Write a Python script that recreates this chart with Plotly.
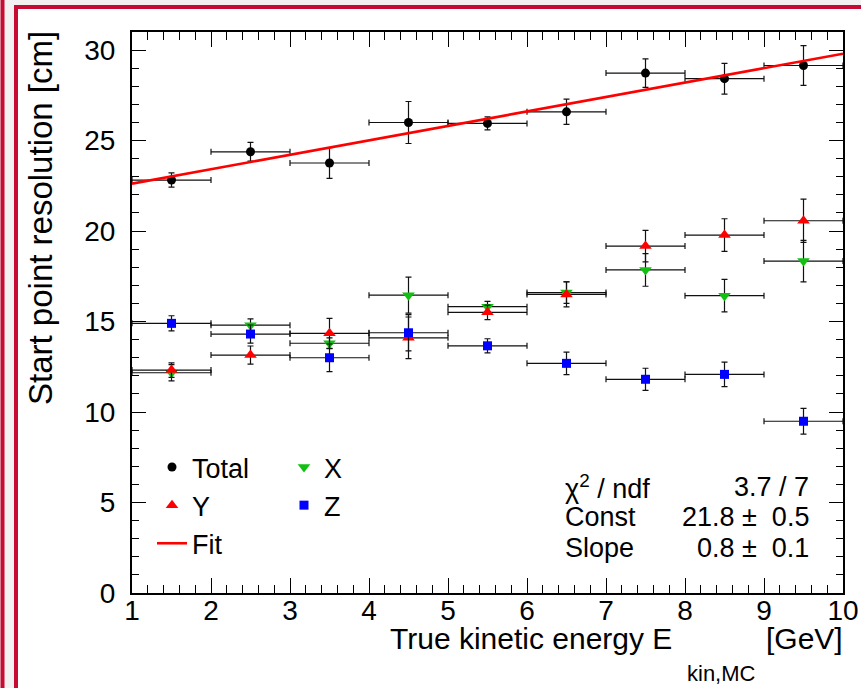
import plotly.graph_objects as go

# ---------------- data ----------------
energy = [1.5, 2.5, 3.5, 4.5, 5.5, 6.5, 7.5, 8.5, 9.5]
bin_half = [0.5, 0.5, 0.5, 0.5, 0.5, 0.5, 0.5, 0.5, 0.5]

total = [22.82, 24.38, 23.76, 26.0, 25.95, 26.59, 28.73, 28.42, 29.15]
total_err = [0.39, 0.52, 0.85, 1.16, 0.36, 0.70, 0.79, 0.85, 1.10]

res_y = [12.32, 13.15, 14.35, 14.10, 15.51, 16.50, 19.17, 19.78, 20.57]
res_y_err = [0.40, 0.50, 0.83, 1.15, 0.40, 0.69, 0.87, 0.90, 1.20]

res_x = [12.17, 14.80, 13.80, 16.46, 15.82, 16.60, 17.85, 16.43, 18.34]
res_x_err = [0.45, 0.35, 0.30, 1.00, 0.30, 0.60, 0.90, 0.90, 1.15]

res_z = [14.90, 14.31, 13.00, 14.38, 13.66, 12.69, 11.81, 12.08, 9.49]
res_z_err = [0.42, 0.50, 0.77, 1.00, 0.39, 0.62, 0.61, 0.68, 0.71]

fit_x = [1.0, 10.0]
fit_y = [22.62, 29.80]

stats_labels = ["χ<sup>2</sup> / ndf", "Const", "Slope"]
stats_values = ["3.7 / 7", "21.8 ±\u00a0 0.5", "0.8 ±\u00a0 0.1"]

# ---------------- layout helpers ----------------
W, H = 861, 688
L, R, T, B = 132, 843, 32, 593


def px(xp):
    return (xp - L) / (R - L)


def py(yp):
    return (B - yp) / (B - T)


FONT = "Liberation Sans, Arial, Helvetica, sans-serif"
ERR_COL = "#111111"

fig = go.Figure()


def add_series(name, yvals, yerr, color, symbol, size, legend):
    fig.add_trace(go.Scatter(
        x=energy, y=yvals, mode="markers", name=name,
        legend=legend, legendgroup=name,
        marker=dict(color=color, symbol=symbol, size=size, line=dict(width=0)),
        error_x=dict(type="data", array=bin_half, color=ERR_COL, thickness=1.2, width=3),
        error_y=dict(type="data", array=yerr, color=ERR_COL, thickness=1.2, width=3),
    ))


add_series("Total", total, total_err, "black", "circle", 9, "legend")
add_series("X", res_x, res_x_err, "#12c012", "triangle-down", 11, "legend2")
add_series("Y", res_y, res_y_err, "#ff0000", "triangle-up", 11, "legend")
add_series("Z", res_z, res_z_err, "#0000ff", "square", 9, "legend2")

fig.add_trace(go.Scatter(
    x=fit_x, y=fit_y, mode="lines", name="Fit", legend="legend", legendgroup="Fit",
    line=dict(color="#ff0000", width=2.6),
))

# ---------------- frame decoration ----------------
RED = "#c70a34"
shapes = [
    dict(type="rect", xref="paper", yref="paper", x0=px(18), x1=px(W + 5), y0=py(H + 5), y1=py(9),
         fillcolor="white", line=dict(width=0), layer="below"),
    dict(type="rect", xref="paper", yref="paper", x0=px(0.5), x1=px(4.5), y0=py(H + 5), y1=py(-5),
         fillcolor=RED, line=dict(width=0), layer="below"),
    dict(type="rect", xref="paper", yref="paper", x0=px(14), x1=px(18), y0=py(H + 5), y1=py(5),
         fillcolor=RED, line=dict(width=0), layer="below"),
    dict(type="rect", xref="paper", yref="paper", x0=px(14), x1=px(W + 5), y0=py(9), y1=py(5),
         fillcolor=RED, line=dict(width=0), layer="below"),
]

annotations = [
    dict(text="Start point resolution [cm]", textangle=-90, xref="paper", yref="paper",
         x=px(40), y=py(29), xanchor="center", yanchor="top", showarrow=False,
         font=dict(family=FONT, size=33, color="black")),
    dict(text="True kinetic energy E", xref="paper", yref="paper",
         x=px(674), y=py(638), xanchor="right", yanchor="middle", showarrow=False,
         font=dict(family=FONT, size=30, color="black")),
    dict(text="kin,MC", xref="paper", yref="paper",
         x=px(685), y=py(673), xanchor="left", yanchor="middle", showarrow=False,
         font=dict(family=FONT, size=22, color="black")),
    dict(text="[GeV]", xref="paper", yref="paper",
         x=px(845), y=py(638), xanchor="right", yanchor="middle", showarrow=False,
         font=dict(family=FONT, size=30, color="black")),
]
rows = [487, 517, 548]
for lab, val, r in zip(stats_labels, stats_values, rows):
    annotations.append(dict(text=lab, xref="paper", yref="paper", x=px(563), y=py(r),
                            xanchor="left", yanchor="middle", showarrow=False,
                            font=dict(family=FONT, size=27, color="black")))
    annotations.append(dict(text=val, xref="paper", yref="paper", x=px(811), y=py(r),
                            xanchor="right", yanchor="middle", showarrow=False,
                            font=dict(family=FONT, size=27, color="black")))

axis_common = dict(
    showline=True, linecolor="black", linewidth=2, mirror="allticks",
    ticks="inside", tickcolor="black", tickwidth=1.2,
    showgrid=False, zeroline=False, automargin=False,
    tickfont=dict(family=FONT, size=28, color="black"),
)

fig.update_layout(
    width=W, height=H,
    margin=dict(l=L, r=W - R, t=T, b=H - B, pad=0, autoexpand=False),
    paper_bgcolor="#f2f0f0", plot_bgcolor="white",
    showlegend=True,
    xaxis=dict(range=[1, 10], dtick=1, tick0=1, ticklen=15, ticklabelstandoff=-9,
               minor=dict(dtick=0.2, ticklen=8, ticks="inside", tickcolor="black", tickwidth=1.2),
               **axis_common),
    yaxis=dict(range=[0, 31], dtick=5, tick0=0, ticklen=14, ticklabelstandoff=9,
               minor=dict(dtick=1, ticklen=7, ticks="inside", tickcolor="black", tickwidth=1.2),
               **axis_common),
    legend=dict(x=px(152), y=py(443), xanchor="left", yanchor="top",
                bgcolor="rgba(0,0,0,0)", tracegroupgap=0, itemwidth=30,
                font=dict(family=FONT, size=27, color="black")),
    legend2=dict(x=px(284), y=py(443), xanchor="left", yanchor="top",
                 bgcolor="rgba(0,0,0,0)", tracegroupgap=0, itemwidth=30,
                 font=dict(family=FONT, size=27, color="black")),
    shapes=shapes,
    annotations=annotations,
)

fig.write_html("out.html", config={"displayModeBar": False},
               post_script="document.body.style.margin='0';document.body.style.overflow='hidden';")
